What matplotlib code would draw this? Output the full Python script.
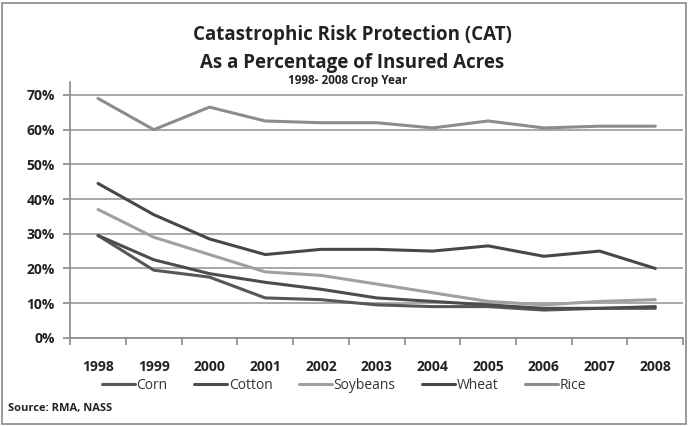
import matplotlib.pyplot as plt
from matplotlib.patches import Rectangle
from matplotlib.ticker import FuncFormatter, FixedLocator

years = ['1998', '1999', '2000', '2001', '2002', '2003', '2004', '2005', '2006', '2007', '2008']
corn = [29.5, 19.5, 17.5, 11.5, 11.0, 9.5, 9.0, 9.0, 8.0, 8.5, 8.5]
cotton = [29.5, 22.5, 18.5, 16.0, 14.0, 11.5, 10.5, 9.5, 8.5, 8.5, 9.0]
soybeans = [37.0, 29.0, 24.0, 19.0, 18.0, 15.5, 13.0, 10.5, 9.5, 10.5, 11.0]
wheat = [44.5, 35.5, 28.5, 24.0, 25.5, 25.5, 25.0, 26.5, 23.5, 25.0, 20.0]
rice = [69.0, 60.0, 66.5, 62.5, 62.0, 62.0, 60.5, 62.5, 60.5, 61.0, 61.0]

series = [
    ('Corn', corn, '#575757'),
    ('Cotton', cotton, '#4c4c4c'),
    ('Soybeans', soybeans, '#a0a0a0'),
    ('Wheat', wheat, '#474747'),
    ('Rice', rice, '#8c8c8c'),
]

plt.rcParams['font.family'] = ['Open Sans', 'DejaVu Sans']

fig = plt.figure(figsize=(6.88, 4.26), dpi=100)
ax = fig.add_axes([0.102, 0.207, 0.891, 0.601])

x = list(range(len(years)))
for name, vals, col in series:
    ax.plot(x, [v / 100 for v in vals], color=col, lw=2.2, label=name, solid_capstyle='round')

ax.set_xlim(-0.5, len(years) - 0.5)
ax.set_ylim(0, 0.738)
ax.set_yticks([0, 0.1, 0.2, 0.3, 0.4, 0.5, 0.6, 0.7])
ax.yaxis.set_major_formatter(FuncFormatter(lambda v, p: '%d%%' % round(v * 100)))
ax.grid(axis='y', color='#9a9a9a', lw=1.2)
ax.set_axisbelow(True)

ax.set_xticks(x)
ax.set_xticklabels(years, fontsize=10, fontweight='bold', color='#222222')
ax.xaxis.set_minor_locator(FixedLocator([i - 0.5 for i in range(len(years) + 1)]))
ax.tick_params(axis='x', which='major', length=0, pad=16)
ax.tick_params(axis='x', which='minor', length=5, color='#8a8a8a', width=1.2, direction='out')
ax.tick_params(axis='y', length=5, color='#8a8a8a', width=1.2, labelsize=10, labelcolor='#222222', pad=6)
for t in ax.get_yticklabels():
    t.set_fontweight('bold')

for s in ['top', 'right']:
    ax.spines[s].set_visible(False)
for s in ['left', 'bottom']:
    ax.spines[s].set_color('#8a8a8a')
    ax.spines[s].set_linewidth(1.2)

fig.text(0.512, 0.918, 'Catastrophic Risk Protection (CAT)', ha='center', va='center',
         fontsize=13.5, fontweight='bold', color='#222222')
fig.text(0.512, 0.853, 'As a Percentage of Insured Acres', ha='center', va='center',
         fontsize=13.5, fontweight='bold', color='#222222')
fig.text(0.506, 0.810, '1998- 2008 Crop Year', ha='center', va='center',
         fontsize=8.5, fontweight='bold', color='#222222')

leg = fig.legend(loc='center', bbox_to_anchor=(0.50, 0.095), ncol=5, frameon=False,
                 fontsize=10, handlelength=2.4, handletextpad=0.1, columnspacing=1.9)
for t in leg.get_texts():
    t.set_color('#333333')

fig.text(0.012, 0.04, 'Source: RMA, NASS', ha='left', va='center', fontsize=8,
         fontweight='bold', color='#222222')

fig.patches.append(Rectangle((0.003, 0.004), 0.994, 0.99, transform=fig.transFigure,
                             fill=False, edgecolor='#8a8a8a', lw=1.2))

fig.savefig('out.png', dpi=100)
